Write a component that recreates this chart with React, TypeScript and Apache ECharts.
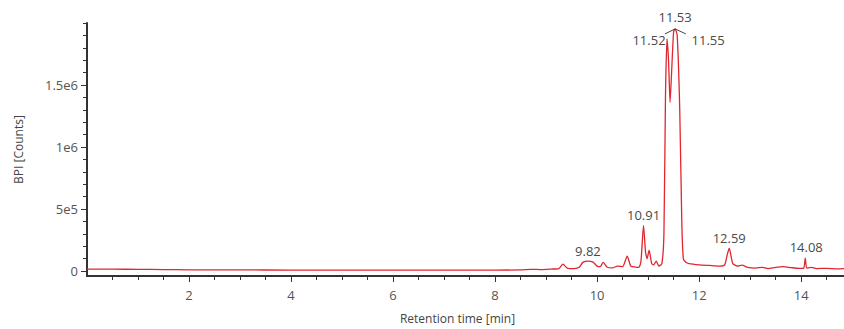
import React, { useEffect, useRef } from "react";
import * as echarts from "echarts";

// Retention time [min]
const times = [
  0.0, 0.5, 1.0, 1.5, 2.0, 3.0, 4.0, 5.0, 6.0, 7.0, 8.0, 8.5, 8.7, 8.9, 9.1, 9.25, 9.33, 9.42, 9.55, 9.65,
  9.72, 9.82, 9.92, 10.0, 10.06, 10.12, 10.2, 10.3, 10.4, 10.5, 10.59, 10.66, 10.75, 10.82, 10.86, 10.91,
  10.95, 10.98, 11.02, 11.07, 11.11, 11.16, 11.21, 11.27, 11.31, 11.34, 11.37, 11.4, 11.43, 11.46, 11.5,
  11.53, 11.57, 11.62, 11.66, 11.69, 11.74, 11.8, 12.0, 12.2, 12.4, 12.5, 12.55, 12.59, 12.66, 12.75,
  12.84, 12.95, 13.1, 13.24, 13.35, 13.5, 13.65, 13.8, 13.95, 14.05, 14.08, 14.11, 14.2, 14.3, 14.5,
  14.7, 14.84,
];
// BPI [Counts]
const counts = [
  16000, 15000, 14000, 12000, 10000, 9000, 8000, 8000, 8000, 8000, 8000, 9000, 14000, 12000, 16000, 20000,
  55000, 22000, 20000, 30000, 70000, 80000, 72000, 40000, 35000, 70000, 30000, 25000, 40000, 35000, 120000,
  40000, 32000, 30000, 80000, 368000, 150000, 100000, 168000, 60000, 50000, 80000, 40000, 60000, 300000,
  1400000, 1872000, 1700000, 1360000, 1600000, 1930000, 1952000, 1900000, 1300000, 400000, 100000, 70000,
  60000, 50000, 45000, 40000, 50000, 130000, 184000, 60000, 40000, 48000, 30000, 24000, 30000, 20000,
  30000, 35000, 28000, 22000, 24000, 104000, 24000, 30000, 20000, 22000, 18000, 20000,
];

// Peak annotations
const peakLabels = ["9.82", "10.91", "12.59", "14.08", "11.53", "11.52", "11.55"];
const peakTimes = [9.82, 10.91, 12.59, 14.08, 11.53, 11.37, 11.53];
const peakCounts = [80000, 368000, 184000, 104000, 1952000, 1872000, 1952000];

// Axis ticks
const xLabelValues = [2, 4, 6, 8, 10, 12, 14];
const xMinorValues = [0.5, 1, 1.5, 2.5, 3, 3.5, 4.5, 5, 5.5, 6.5, 7, 7.5, 8.5, 9, 9.5, 10.5, 11, 11.5, 12.5, 13, 13.5, 14.5];
const yTickValues = [0, 500000, 1000000, 1500000];
const yTickLabels = ["0", "5e5", "1e6", "1.5e6"];
const yMinorValues = [100000, 200000, 300000, 400000, 600000, 700000, 800000, 900000, 1100000, 1200000, 1300000, 1400000, 1600000, 1700000, 1800000, 1900000, 2000000];

const FONT = "'Open Sans', 'Noto Sans', sans-serif";
const AXIS_COLOR = "#333";
const TEXT_COLOR = "#555";

export default function App() {
  const ref = useRef<HTMLDivElement>(null);

  useEffect(() => {
    document.body.style.margin = "0";
    if (!ref.current) return;
    const chart = echarts.init(ref.current, undefined, { renderer: "svg" });

    const data = times.map((t, i) => [t, counts[i]]);
    const offsets: Record<string, number[]> = {
      "9.82": [0, -10],
      "10.91": [0, -10],
      "12.59": [0, -10],
      "14.08": [1, -11],
      "11.53": [0, -12],
      "11.52": [-18, 1],
      "11.55": [33, 11],
    };
    const markData = peakLabels.map((lab, i) => ({
      coord: [peakTimes[i], peakCounts[i]],
      symbol: "circle",
      symbolSize: 0,
      label: {
        show: true,
        formatter: lab,
        position: "inside",
        offset: offsets[lab],
        color: "#4a4a4a",
        fontSize: 13,
        fontFamily: FONT,
      },
    }));

    const apexT = 11.53;
    const apexV = 1952000;
    const leaderData = [
      [{ coord: [apexT - 0.2, apexV - 40000] }, { coord: [apexT, apexV] }],
      [{ coord: [apexT, apexV] }, { coord: [apexT + 0.21, apexV - 40000] }],
    ];

    const yLabelMap: Record<number, string> = {};
    yTickValues.forEach((v, i) => (yLabelMap[v] = yTickLabels[i]));

    chart.setOption({
      animation: false,
      grid: { left: 87, right: 0, top: 23, bottom: 51, containLabel: false },
      xAxis: [
        {
          type: "value",
          min: 0,
          max: 14.84,
          name: "Retention time [min]",
          nameLocation: "middle",
          nameGap: 36,
          nameTextStyle: { color: "#444", fontSize: 12, fontFamily: FONT, padding: [0, 16, 0, 0] },
          axisLine: { show: true, onZero: false, lineStyle: { color: AXIS_COLOR, width: 2 } },
          axisTick: { show: true, customValues: xLabelValues, length: 6, lineStyle: { color: AXIS_COLOR } },
          axisLabel: { customValues: xLabelValues, color: TEXT_COLOR, fontSize: 13, fontFamily: FONT, margin: 12 },
          splitLine: { show: false },
        },
        {
          type: "value",
          position: "bottom",
          min: 0,
          max: 14.84,
          axisLine: { show: false, onZero: false },
          axisTick: { show: true, customValues: xMinorValues, length: 4, lineStyle: { color: AXIS_COLOR } },
          axisLabel: { show: false },
          splitLine: { show: false },
        },
      ],
      yAxis: [
        {
          type: "value",
          min: -40000,
          max: 2000000,
          name: "BPI [Counts]",
          nameLocation: "middle",
          nameGap: 63,
          nameTextStyle: { color: "#444", fontSize: 12, fontFamily: FONT },
          axisLine: { show: true, onZero: false, lineStyle: { color: AXIS_COLOR, width: 2 } },
          axisTick: { show: true, customValues: yTickValues, length: 6, lineStyle: { color: AXIS_COLOR } },
          axisLabel: {
            customValues: yTickValues,
            formatter: (v: number) => yLabelMap[v] ?? "",
            color: TEXT_COLOR,
            fontSize: 13,
            fontFamily: FONT,
            margin: 9,
          },
          splitLine: { show: false },
        },
        {
          type: "value",
          position: "left",
          min: -40000,
          max: 2000000,
          axisLine: { show: false, onZero: false },
          axisTick: { show: true, customValues: yMinorValues, length: 4, lineStyle: { color: AXIS_COLOR } },
          axisLabel: { show: false },
          splitLine: { show: false },
        },
      ],
      series: [
        {
          type: "line",
          data,
          xAxisIndex: 0,
          yAxisIndex: 0,
          showSymbol: false,
          smooth: 0.2,
          lineStyle: { color: "#e0262e", width: 1.3 },
          markPoint: { data: markData, silent: true },
          markLine: {
            silent: true,
            symbol: "none",
            label: { show: false },
            lineStyle: { color: "#444", width: 1, type: "solid" },
            data: leaderData,
          },
        },
      ],
    });

    return () => chart.dispose();
  }, []);

  return <div ref={ref} style={{ width: 844, height: 329 }} />;
}
